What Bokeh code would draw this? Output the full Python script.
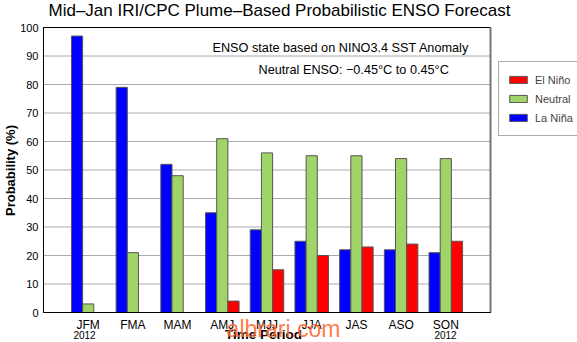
from bokeh.plotting import figure
from bokeh.models import Label, Legend, LegendItem, FixedTicker, Range1d
from bokeh.embed import file_html
from bokeh.resources import INLINE

# ---- data ----
periods = ["JFM", "FMA", "MAM", "AMJ", "MJJ", "JJA", "JAS", "ASO", "SON"]
la_nina = [97, 79, 52, 35, 29, 25, 22, 22, 21]
neutral = [3, 21, 48, 61, 56, 55, 55, 54, 54]
el_nino = [0, 0, 0, 4, 15, 20, 23, 24, 25]
y_ticks = [0, 10, 20, 30, 40, 50, 60, 70, 80, 90, 100]
x_lim = [0, 10]
y_lim = [0, 100]

FONT = "Liberation Sans"
BLUE = "#0000FF"
GREEN = "#A0D468"
RED = "#FF0000"

# data area inside the 577x342 canvas (pixels)
W, H = 577, 342
FL, FR, FT, FB = 43, 490, 27, 312
ux = (FR - FL) / (x_lim[1] - x_lim[0])
uy = (FB - FT) / (y_lim[1] - y_lim[0])

xs = list(range(1, len(periods) + 1))
bw = 0.25

p = figure(width=W, height=H, output_backend="svg", toolbar_location=None,
           x_range=Range1d(x_lim[0] - FL / ux, x_lim[0] + (W - FL) / ux),
           y_range=Range1d(y_lim[0] - (H - FB) / uy, y_lim[0] + FB / uy),
           min_border=0, min_border_left=0, min_border_right=0,
           min_border_top=0, min_border_bottom=0)
p.outline_line_color = None
p.background_fill_color = "white"
p.border_fill_color = "white"
p.xgrid.visible = False
p.ygrid.visible = False

# horizontal grid lines inside the data area
p.segment(x0=[x_lim[0]] * len(y_ticks), x1=[x_lim[1]] * len(y_ticks),
          y0=y_ticks, y1=y_ticks, line_color="#AAAAAA", line_width=1, level="underlay")

r_ln = p.vbar(x=[x - bw for x in xs], top=la_nina, width=bw, bottom=0,
              fill_color=BLUE, line_color="#555555", line_width=1)
r_nt = p.vbar(x=xs, top=neutral, width=bw, bottom=0,
              fill_color=GREEN, line_color="#555555", line_width=1)
r_en = p.vbar(x=[x + bw for x in xs], top=el_nino, width=bw, bottom=0,
              fill_color=RED, line_color="#555555", line_width=1)

# frame box
p.quad(left=[x_lim[0]], right=[x_lim[1]], bottom=[y_lim[0]], top=[y_lim[1]],
       fill_color=None, line_color="black", line_width=1)
p.segment(x0=[x_lim[1]], x1=[x_lim[1]], y0=[y_lim[0]], y1=[y_lim[1]],
          line_color="#777777", line_width=2)

# axes fixed at the data-area edges
p.xaxis.fixed_location = y_lim[0]
p.xaxis.bounds = tuple(x_lim)
p.xaxis.ticker = FixedTicker(ticks=xs)
p.xaxis.major_label_overrides = {x: lab for x, lab in zip(xs, periods)}
p.yaxis.fixed_location = x_lim[0]
p.yaxis.bounds = tuple(y_lim)
p.yaxis.ticker = FixedTicker(ticks=y_ticks)
for ax in (p.xaxis, p.yaxis):
    ax.major_tick_in = 0
    ax.major_tick_out = 0
    ax.minor_tick_in = 0
    ax.minor_tick_out = 0
    ax.axis_line_color = "black"
    ax.major_label_text_font = FONT
    ax.major_label_text_color = "black"
    ax.major_label_standoff = 5
p.xaxis.major_label_text_font_size = "12px"
p.yaxis.major_label_text_font_size = "11px"


def px_x(cx):
    return x_lim[0] + (cx - FL) / ux


def px_y(cy):
    return y_lim[0] + (FB - cy) / uy


def add_text(text, cx, cy, size, align="center", bold=False, color="black", angle=0.0, alpha=1.0):
    p.add_layout(Label(x=px_x(cx), y=px_y(cy), text=text, text_font=FONT,
                       text_font_size=size, text_align=align, text_baseline="middle",
                       text_font_style="bold" if bold else "normal",
                       text_color=color, angle=angle, text_alpha=alpha))


add_text("Mid\u2013Jan IRI/CPC Plume\u2013Based Probabilistic ENSO Forecast", 279, 10, "17px")
add_text("ENSO state based on NINO3.4 SST Anomaly", 212, 47, "12.7px", align="left")
add_text("Neutral ENSO: \u22120.45\u00b0C to 0.45\u00b0C", 258, 69, "12.7px", align="left")
add_text("Probability (%)", 10, 170, "13px", bold=True, angle=1.5708)
add_text("Time Period", 263, 333.5, "13.5px", bold=True)
add_text("2012", 84, 334, "10px")
add_text("2012", 445, 334, "10px")
add_text("albrari.com", 283, 328.5, "23px", color="#FF6A33", alpha=0.9)

legend = Legend(items=[LegendItem(label="El Niño", renderers=[r_en]),
                       LegendItem(label="Neutral", renderers=[r_nt]),
                       LegendItem(label="La Niña", renderers=[r_ln])],
                location=(498, H - 136), orientation="vertical",
                glyph_width=22, glyph_height=9, label_height=19, spacing=0,
                padding=8, margin=0, label_standoff=6, label_width=37,
                label_text_font=FONT, label_text_font_size="11px",
                border_line_color="#555555", border_line_width=1,
                background_fill_color="white", background_fill_alpha=1)
p.add_layout(legend)

open("out.html", "w").write(file_html(p, INLINE))
